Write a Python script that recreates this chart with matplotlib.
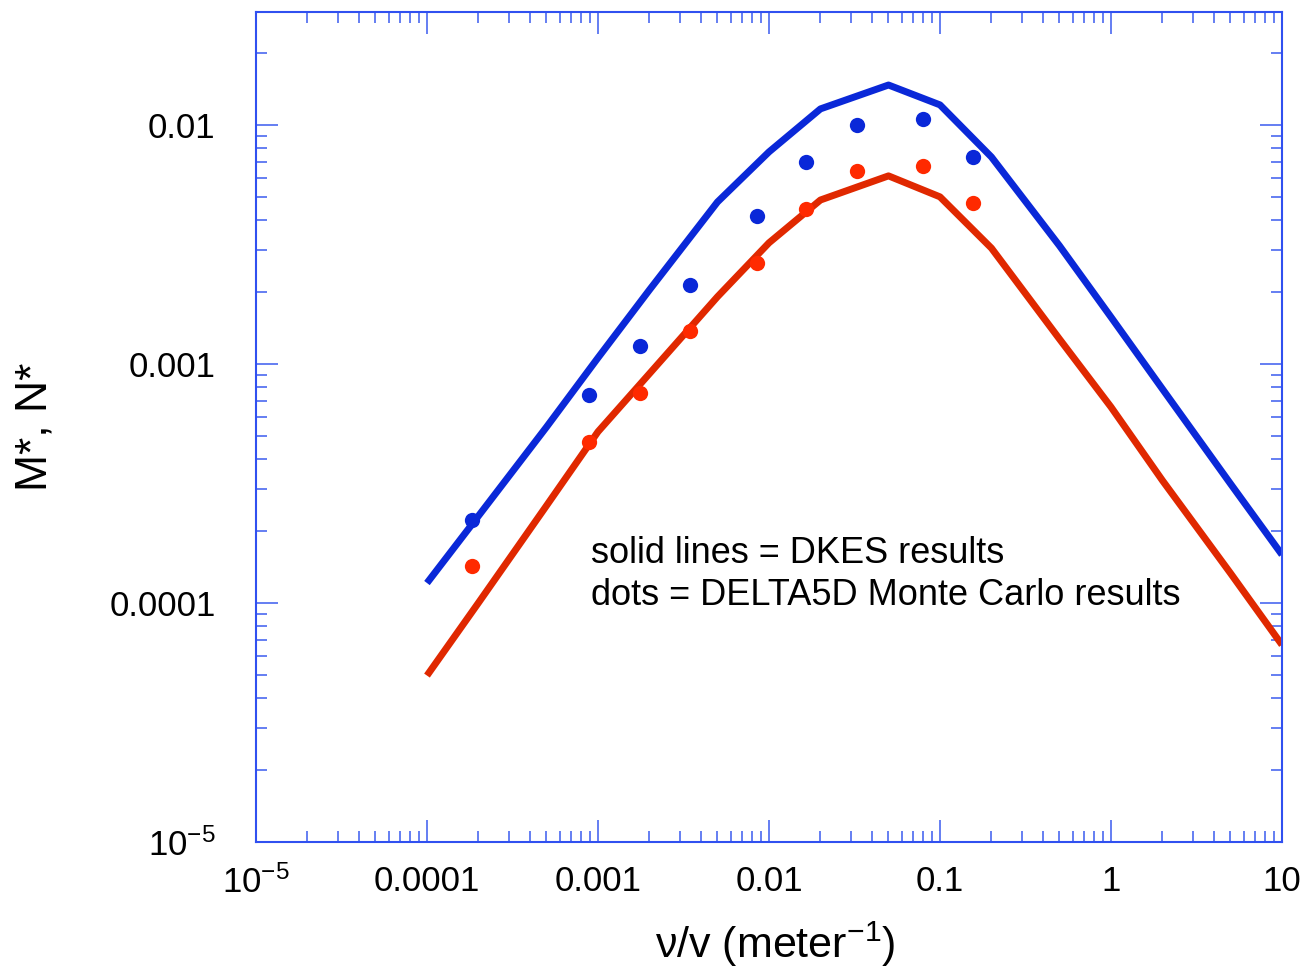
#!/usr/bin/env python3
"""
M*, N* transport coefficients vs collisionality nu/v
DKES results (lines) against DELTA5D Monte Carlo (dots)
"""
import numpy
import matplotlib
matplotlib.use("Agg")
import matplotlib.pyplot as plt
from matplotlib.ticker import FixedLocator, FuncFormatter, LogLocator, NullFormatter

plt.rcParams['font.family'] = ['Liberation Sans', 'DejaVu Sans']
plt.rcParams['mathtext.fontset'] = 'custom'
plt.rcParams['mathtext.rm'] = 'Liberation Sans'
plt.rcParams['mathtext.it'] = 'Liberation Sans'

# DKES curves
dkes_nu = [1e-4, 2e-4, 5e-4, 1e-3, 2e-3, 5e-3, 0.01, 0.02, 0.05, 0.1, 0.2, 0.5, 1, 2, 5, 10]
dkes_m = [1.21e-4, 2.31e-4, 5.44e-4, 1.06e-3, 2.04e-3, 4.76e-3, 7.71e-3, 0.01167, 0.01469,
          0.01213, 7.34e-3, 3.12e-3, 1.57e-3, 7.85e-4, 3.15e-4, 1.59e-4]
dkes_n = [4.96e-5, 1.0e-4, 2.55e-4, 5.2e-4, 9.1e-4, 1.91e-3, 3.21e-3, 4.85e-3, 6.12e-3,
          5.0e-3, 3.05e-3, 1.27e-3, 6.6e-4, 3.25e-4, 1.33e-4, 6.67e-5]

# DELTA5D Monte Carlo points
mc_nu = [1.84e-4, 8.9e-4, 1.75e-3, 3.45e-3, 8.5e-3, 0.0164, 0.0327, 0.0798, 0.156]
mc_m = [2.22e-4, 7.41e-4, 1.19e-3, 2.14e-3, 4.16e-3, 7.0e-3, 0.0100, 0.0106, 7.35e-3]
mc_n = [1.42e-4, 4.72e-4, 7.57e-4, 1.37e-3, 2.65e-3, 4.46e-3, 6.43e-3, 6.74e-3, 4.70e-3]

x_ticks = [1e-5, 1e-4, 1e-3, 1e-2, 1e-1, 1, 10]
y_ticks = [1e-5, 1e-4, 1e-3, 1e-2]


def tick_label(v, pos):
    if v < 5e-5:
        return '10$^{-5}$'
    return f"{v:g}" if v >= 1 else f"{v:.10f}".rstrip('0')


fig = plt.figure(figsize=(13.06, 9.72), dpi=100)
ax = fig.add_axes([0.196, 0.134, 0.7856, 0.8537])

ax.plot(dkes_nu, dkes_m, color='#0a28d8', lw=5, solid_capstyle='butt')
ax.plot(dkes_nu, dkes_n, color='#e02800', lw=5, solid_capstyle='butt')
ax.plot(mc_nu, mc_m, 'o', color='#0a28d8', ms=11, mec='none')
ax.plot(mc_nu, mc_n, 'o', color='#ff2a00', ms=11, mec='none')

ax.set_xscale('log')
ax.set_yscale('log')
ax.set_xlim(1e-5, 10)
ax.set_ylim(1e-5, 0.0297)

for axis, ticks in ((ax.xaxis, x_ticks), (ax.yaxis, y_ticks)):
    axis.set_major_locator(FixedLocator(ticks))
    axis.set_major_formatter(FuncFormatter(tick_label))
    axis.set_minor_locator(LogLocator(base=10, subs=numpy.arange(2, 10), numticks=20))
    axis.set_minor_formatter(NullFormatter())

ax.tick_params(which='both', direction='in', top=True, right=True, color='#4a68f0',
               labelsize=25, width=1.2)
ax.tick_params(which='major', length=16)
ax.tick_params(which='minor', length=8)
ax.tick_params(axis='x', which='major', pad=17)
ax.tick_params(axis='y', which='major', pad=29)
for s in ax.spines.values():
    s.set_color('#3050f0')
    s.set_linewidth(1.5)

ax.set_xlabel('ν/v (meter$^{-1}$)', fontsize=31)
ax.set_ylabel('M*, N*', fontsize=32)
ax.xaxis.set_label_coords(0.506, -0.094)
ax.yaxis.set_label_coords(-0.195, 0.5)

ax.text(0.3265, 0.322, 'solid lines = DKES results\ndots = DELTA5D Monte Carlo results',
        transform=ax.transAxes, fontsize=26, va='center', ha='left', linespacing=1.25)

plt.savefig("out.png", dpi=100)
